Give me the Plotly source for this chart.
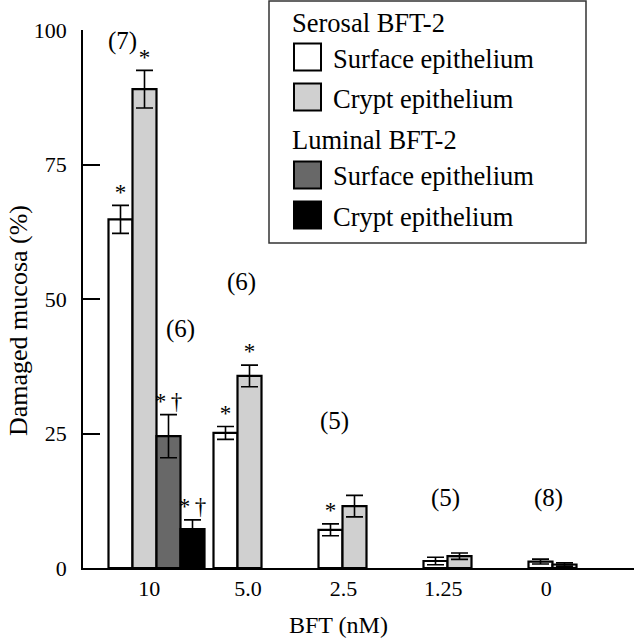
import plotly.graph_objects as go

# ---------------- data ----------------
doses = ["10", "5.0", "2.5", "1.25", "0"]
group_pos = [0, 1, 2, 3, 4]
tick_pos = [0.16, 1.10, 2.01, 2.96, 3.94]

serosal_surface = [64.8, 25.1, 7.1, 1.3, 1.2]
serosal_surface_err = [2.6, 1.2, 1.1, 0.7, 0.45]
serosal_surface_sig = ["*", "*", "*", "", ""]

serosal_crypt = [89.0, 35.7, 11.5, 2.2, 0.65]
serosal_crypt_err = [3.5, 2.0, 2.0, 0.6, 0.3]
serosal_crypt_sig = ["*", "*", "", "", ""]

luminal_pos = [0]
luminal_surface = [24.5]
luminal_surface_err = [4.0]
luminal_surface_sig = ["*\u2009\u2020"]

luminal_crypt = [7.25]
luminal_crypt_err = [1.7]
luminal_crypt_sig = ["*\u2009\u2020"]

n_labels = ["(7)", "(6)", "(6)", "(5)", "(5)", "(8)"]
n_x = [-0.10, 0.46, 1.04, 1.92, 2.98, 3.96]
n_y = [97.9, 44.4, 53.2, 27.4, 13.0, 13.0]

x_title = "BFT (nM)"
y_title = "Damaged mucosa (%)"

# ---------------- layout constants ----------------
W, H = 634, 639
ML, MR, MT, MB = 83, 0, 30, 71
PW, PH = W - ML - MR, H - MT - MB
FONT = "Liberation Serif, Times New Roman, serif"
BW = 24 / 105.0  # bar width in axis units


def fx(px):
    return (px - ML) / PW


def fy(py):
    return (H - MB - py) / PH


fig = go.Figure()

series = [
    (serosal_surface, serosal_surface_err, serosal_surface_sig, group_pos, "white", -BW),
    (serosal_crypt, serosal_crypt_err, serosal_crypt_sig, group_pos, "#d0d0d0", 0.0),
    (luminal_surface, luminal_surface_err, luminal_surface_sig, luminal_pos, "#686868", BW),
    (luminal_crypt, luminal_crypt_err, luminal_crypt_sig, luminal_pos, "black", 2 * BW),
]

for vals, errs, sig, pos, col, off in series:
    fig.add_trace(go.Bar(
        x=pos, y=vals, width=BW, offset=off,
        marker=dict(color=col, line=dict(color="black", width=2.2)),
        error_y=dict(type="data", array=errs, visible=True,
                     color="black", thickness=1.6, width=8.5),
        showlegend=False, hoverinfo="skip",
    ))

for vals, errs, sig, pos, col, off in series:
    fig.add_trace(go.Scatter(
        x=[p + off + BW / 2 for p in pos],
        y=[v + e for v, e in zip(vals, errs)],
        text=sig, mode="text", textposition="top center",
        textfont=dict(family=FONT, size=23, color="black"),
        showlegend=False, hoverinfo="skip",
    ))

annotations = []
for lab, x, y in zip(n_labels, n_x, n_y):
    annotations.append(dict(x=x, y=y, xref="x", yref="y", text=lab,
                            showarrow=False, xanchor="center", yanchor="middle",
                            font=dict(family=FONT, size=25, color="black")))

# axis titles
annotations.append(dict(x=fx(338), y=fy(625), xref="paper", yref="paper", text=x_title,
                        showarrow=False, xanchor="center", yanchor="middle",
                        font=dict(family=FONT, size=24, color="black")))
annotations.append(dict(x=fx(18), y=fy(321), xref="paper", yref="paper", text=y_title,
                        textangle=-90, showarrow=False, xanchor="center", yanchor="middle",
                        font=dict(family=FONT, size=26, color="black")))

# ---------------- legend (drawn) ----------------
shapes = [dict(type="rect", xref="paper", yref="paper",
               x0=fx(269), x1=fx(586), y0=fy(243), y1=fy(1),
               line=dict(color="#333333", width=1.5), fillcolor="white", layer="above")]

leg_rows = [
    ("title", "Serosal BFT-2", None, 22.8),
    ("item", "Surface epithelium", "white", 57),
    ("item", "Crypt epithelium", "#d0d0d0", 97),
    ("title", "Luminal BFT-2", None, 140),
    ("item", "Surface epithelium", "#686868", 175),
    ("item", "Crypt epithelium", "black", 215),
]
for kind, txt, col, cy in leg_rows:
    if kind == "title":
        annotations.append(dict(x=fx(290), y=fy(cy), xref="paper", yref="paper",
                                text=txt, showarrow=False, xanchor="left", yanchor="middle",
                                font=dict(family=FONT, size=26.5, color="black")))
    else:
        shapes.append(dict(type="rect", xref="paper", yref="paper",
                           x0=fx(294), x1=fx(321), y0=fy(cy + 13.5), y1=fy(cy - 13.5),
                           line=dict(color="black", width=2), fillcolor=col, layer="above"))
        annotations.append(dict(x=fx(331), y=fy(cy + 1.5), xref="paper", yref="paper",
                                text=txt, showarrow=False, xanchor="left", yanchor="middle",
                                font=dict(family=FONT, size=26.5, color="black")))

fig.update_layout(
    width=W, height=H,
    margin=dict(l=ML, r=MR, t=MT, b=MB, pad=0),
    paper_bgcolor="white", plot_bgcolor="white",
    barmode="overlay",
    font=dict(family=FONT, color="black", size=22),
    shapes=shapes, annotations=annotations,
    xaxis=dict(range=[(ML - 132.5) / 105, (W - MR - 132.5) / 105],
               tickmode="array", tickvals=tick_pos, ticktext=doses,
               ticks="", showgrid=False, zeroline=False,
               showline=True, linecolor="black", linewidth=1.5,
               tickfont=dict(family=FONT, size=22, color="black")),
    yaxis=dict(range=[0, 100], tickvals=[0, 25, 50, 75, 100],
               ticks="inside", ticklen=17, tickwidth=1.5, tickcolor="black",
               showgrid=False, zeroline=False,
               showline=True, linecolor="black", linewidth=1.5,
               tickfont=dict(family=FONT, size=22, color="black"),
               ticklabelstandoff=10),
)

fig.write_html("out.html", config={"displayModeBar": False},
               post_script="document.body.style.margin='0';document.body.style.padding='0';")
